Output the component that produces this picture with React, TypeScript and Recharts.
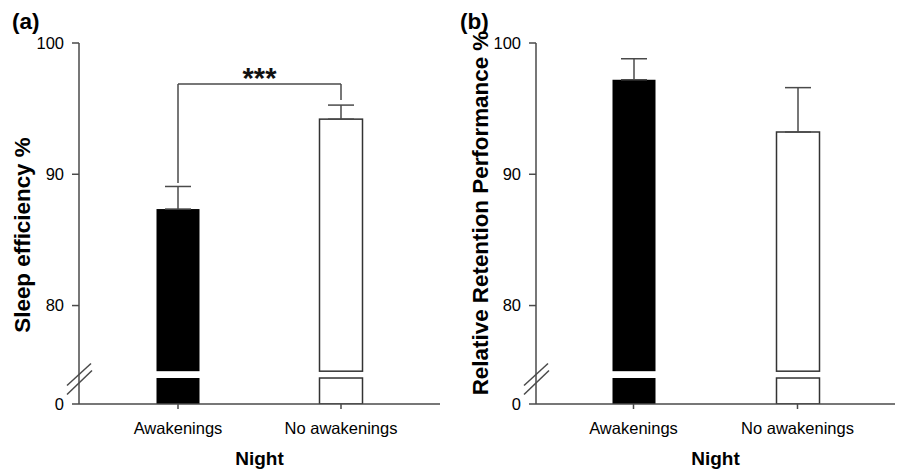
import React from 'react';
import { BarChart, Bar, XAxis, YAxis, ErrorBar, ReferenceLine } from 'recharts';

// ---- data ----
const categories = ['Awakenings', 'No awakenings'];
const barFills = ['#000000', '#ffffff'];
const sleepEfficiencyMean = [87.35, 94.2];
const sleepEfficiencyErr = [1.72, 1.07];
const retentionMean = [97.2, 93.22];
const retentionErr = [1.6, 3.38];
const yTickValues = [0, 80, 90, 100];
const significanceLabel = '***';

// broken-axis settings (axis units)
const ZERO_DISPLAY = 72.5; // where the value 0 is drawn below the break
const BREAK_LOW = 74.48;
const BREAK_HIGH = 75.0;
const BREAK_MARK = 74.6;
const BRACKET_Y = 96.88;

const FONT = '"Liberation Sans", Arial, Helvetica, sans-serif';
const AXIS_COLOR = '#4a4a4a';
const TICK_SIZE = 7;
const TICK_MARGIN = 8;
const TICK_FONT = 16.5;

const toDisplay = (v: number) => (v === 0 ? ZERO_DISPLAY : v);
const fromDisplay = (d: number) => (d === ZERO_DISPLAY ? 0 : d);

const buildRows = (means: number[], errs: number[]) =>
  categories.map((c, i) => ({
    name: c,
    mean: toDisplay(means[i]),
    err: [0, errs[i]],
    fill: barFills[i],
  }));

const sleepRows = buildRows(sleepEfficiencyMean, sleepEfficiencyErr);
const retentionRows = buildRows(retentionMean, retentionErr);
const displayTicks = [ZERO_DISPLAY, BREAK_MARK, ...yTickValues.filter((t) => t > 0)];

function BrokenBar(props: any) {
  const { x, y, width, height, payload } = props;
  const v = payload.mean;
  const ppu = height / (v - ZERO_DISPLAY);
  const gapTop = y + (v - BREAK_HIGH) * ppu;
  const gapBot = y + (v - BREAK_LOW) * ppu;
  const bottom = y + height;
  const isDark = payload.fill === '#000000';
  const stroke = isDark ? 'none' : '#333';
  return (
    <g>
      <rect x={x} y={y} width={width} height={gapTop - y} fill={payload.fill} stroke={stroke} strokeWidth={1.5} />
      <rect x={x} y={gapBot} width={width} height={bottom - gapBot} fill={payload.fill} stroke={stroke} strokeWidth={1.5} />
    </g>
  );
}

function YTick(props: any) {
  const { x, y, payload } = props;
  const axisX = x + TICK_SIZE + TICK_MARGIN;
  const v = payload.value;
  if (v === BREAK_MARK) {
    return (
      <g stroke={AXIS_COLOR} strokeWidth={1.5}>
        <line x1={axisX - 12} y1={y + 9} x2={axisX + 12} y2={y - 13} />
        <line x1={axisX - 12} y1={y + 18} x2={axisX + 13} y2={y - 6} />
      </g>
    );
  }
  return (
    <g>
      <line x1={axisX - TICK_SIZE} y1={y} x2={axisX} y2={y} stroke={AXIS_COLOR} strokeWidth={1.5} />
      <text x={x} y={y} dy="0.355em" textAnchor="end" fontSize={TICK_FONT} fill="#000" fontFamily={FONT}>
        {String(fromDisplay(v))}
      </text>
    </g>
  );
}

function makeYLabel(text: string, panel: string, labelX: number, labelCY: number, panelX: number) {
  return () => (
    <g>
      <text
        transform={`translate(${labelX},${labelCY}) rotate(-90)`}
        textAnchor="middle"
        fontSize={22.4}
        fontWeight="bold"
        fill="#000"
        fontFamily={FONT}
      >
        {text}
      </text>
      <text x={panelX} y={29} fontSize={22.5} fontWeight="bold" fill="#000" fontFamily={FONT}>
        {panel}
      </text>
    </g>
  );
}

interface PanelProps {
  rows: any[];
  width: number;
  marginRight: number;
  yAxisWidth: number;
  xPad: number;
  yLabel: string;
  panel: string;
  labelX: number;
  labelCY: number;
  panelX: number;
  bracket?: boolean;
}

function Panel(p: PanelProps) {
  const r = p.rows;
  return (
    <BarChart
      width={p.width}
      height={475}
      data={r}
      margin={{ top: 43, right: p.marginRight, bottom: 10, left: 0 }}
      style={{ fontFamily: FONT }}
    >
      <XAxis
        dataKey="name"
        height={61}
        padding={{ left: p.xPad, right: p.xPad }}
        axisLine={{ stroke: AXIS_COLOR, strokeWidth: 1.5 }}
        tickLine={{ stroke: AXIS_COLOR, strokeWidth: 1.5 }}
        tickSize={5}
        tickMargin={13}
        tick={{ fontSize: TICK_FONT, fill: '#000', fontFamily: FONT }}
        label={{ value: 'Night', position: 'insideBottom', offset: 0, fontSize: 19, fontWeight: 'bold', fill: '#000', fontFamily: FONT }}
      />
      <YAxis
        type="number"
        width={p.yAxisWidth}
        domain={[ZERO_DISPLAY, 100]}
        allowDataOverflow
        ticks={displayTicks}
        interval={0}
        axisLine={{ stroke: AXIS_COLOR, strokeWidth: 1.5 }}
        tickLine={false}
        tickSize={TICK_SIZE}
        tickMargin={TICK_MARGIN}
        tick={<YTick />}
        label={makeYLabel(p.yLabel, p.panel, p.labelX, p.labelCY, p.panelX)}
      />
      <Bar dataKey="mean" barSize={43} shape={<BrokenBar />} isAnimationActive={false}>
        <ErrorBar dataKey="err" width={13} strokeWidth={1.5} stroke={AXIS_COLOR} direction="y" />
      </Bar>
      {p.bracket && (
        <ReferenceLine
          segment={[
            { x: r[0].name, y: BRACKET_Y },
            { x: r[1].name, y: BRACKET_Y },
          ]}
          stroke={AXIS_COLOR}
          strokeWidth={1.5}
          label={{ value: significanceLabel, position: 'top', offset: -4, fontSize: 29, fontWeight: 'bold', fill: '#111', fontFamily: FONT }}
        />
      )}
      {p.bracket && (
        <ReferenceLine
          segment={[
            { x: r[0].name, y: BRACKET_Y },
            { x: r[0].name, y: r[0].mean + r[0].err[1] + 0.26 },
          ]}
          stroke={AXIS_COLOR}
          strokeWidth={1.5}
        />
      )}
      {p.bracket && (
        <ReferenceLine
          segment={[
            { x: r[1].name, y: BRACKET_Y },
            { x: r[1].name, y: r[1].mean + r[1].err[1] + 0.38 },
          ]}
          stroke={AXIS_COLOR}
          strokeWidth={1.5}
        />
      )}
    </BarChart>
  );
}

export default function App() {
  return (
    <div style={{ position: 'absolute', left: 0, top: 0, width: 901, height: 475, background: '#fff' }}>
      <div style={{ position: 'absolute', left: 0, top: 0 }}>
        <Panel
          rows={sleepRows}
          width={450}
          marginRight={10}
          yAxisWidth={79}
          xPad={17.5}
          yLabel="Sleep efficiency %"
          panel="(a)"
          labelX={30}
          labelCY={235}
          panelX={12}
          bracket
        />
      </div>
      <div style={{ position: 'absolute', left: 450, top: 0 }}>
        <Panel
          rows={retentionRows}
          width={451}
          marginRight={6}
          yAxisWidth={86}
          xPad={15.5}
          yLabel="Relative Retention Performance %"
          panel="(b)"
          labelX={38}
          labelCY={213}
          panelX={10}
        />
      </div>
    </div>
  );
}
